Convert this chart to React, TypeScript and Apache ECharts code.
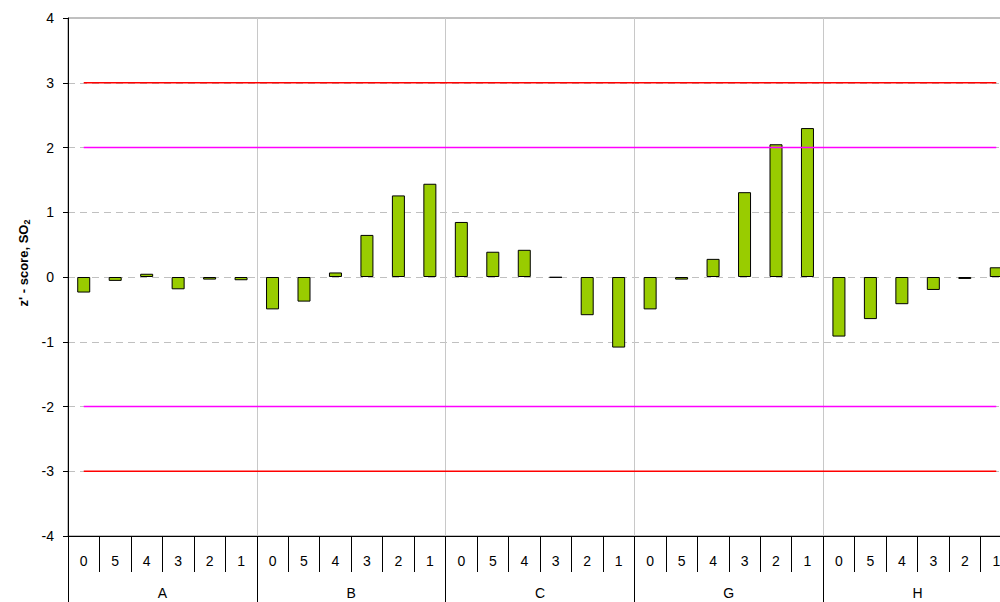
import React, { useEffect, useRef } from "react";
import * as echarts from "echarts";

const groups = ["A", "B", "C", "G", "H"];
const levels = ["0", "5", "4", "3", "2", "1"];
const zScores = [
  -0.24, -0.06, 0.05, -0.19, -0.04, -0.05,
  -0.5, -0.38, 0.07, 0.65, 1.26, 1.44,
  0.85, 0.39, 0.42, -0.01, -0.59, -1.09,
  -0.5, -0.04, 0.28, 1.31, 2.05, 2.3,
  -0.92, -0.65, -0.42, -0.2, -0.03, 0.15,
];
const warningLimit = 2;
const actionLimit = 3;
const yMin = -4;
const yMax = 4;
const yStep = 1;
const yTitle = "z' - score, SO";
const yTitleSub = "2";

const FONT = "'Liberation Sans', Arial, sans-serif";

export default function App() {
  const ref = useRef<HTMLDivElement>(null);

  useEffect(() => {
    if (!ref.current) return;
    const chart = echarts.init(ref.current, undefined, { renderer: "svg" });
    const categories = groups.flatMap(() => levels);
    const constLine = (v: number) => categories.map(() => v);
    const limitSeries = (v: number, color: string) => ({
      type: "line",
      data: constLine(v),
      symbol: "none",
      silent: true,
      z: 5,
      lineStyle: { color, width: 1.5 },
    });

    chart.setOption({
      animation: false,
      backgroundColor: "#ffffff",
      textStyle: { fontFamily: FONT },
      grid: {
        left: 68,
        right: 1,
        top: 18,
        bottom: 66,
        show: true,
        borderColor: "#808080",
        borderWidth: 1,
        backgroundColor: "transparent",
      },
      graphic: [
        {
          type: "text",
          x: 23,
          y: 263,
          rotation: Math.PI / 2,
          style: {
            text: `{a|${yTitle}}{s|${yTitleSub}}`,
            align: "center",
            verticalAlign: "middle",
            rich: {
              a: { fontSize: 13, fontWeight: "bold", fill: "#000", fontFamily: FONT },
              s: { fontSize: 9, fontWeight: "bold", fill: "#000", fontFamily: FONT, padding: [7, 0, 0, 0] },
            },
          },
        },
      ],
      xAxis: [
        {
          type: "category",
          data: categories,
          position: "bottom",
          axisLine: { show: true, onZero: false, lineStyle: { color: "#000", width: 1 } },
          axisTick: { show: true, interval: 0, length: 36, lineStyle: { color: "#000", width: 1 } },
          axisLabel: { interval: 0, margin: 18, color: "#000", fontSize: 14, fontFamily: FONT },
          splitLine: { show: false },
        },
        {
          type: "category",
          data: groups,
          position: "bottom",
          axisLine: { show: false, onZero: false },
          axisTick: { show: true, interval: 0, length: 68, lineStyle: { color: "#000", width: 1 } },
          axisLabel: { interval: 0, margin: 50, color: "#000", fontSize: 14, fontFamily: FONT },
          splitLine: { show: true, interval: 0, lineStyle: { color: "#c8c8c8", width: 1 } },
        },
      ],
      yAxis: {
        type: "value",
        min: yMin,
        max: yMax,
        interval: yStep,
        axisLine: { show: true, lineStyle: { color: "#000", width: 1 } },
        axisTick: { show: true, length: 5, lineStyle: { color: "#000" } },
        axisLabel: { margin: 14, color: "#000", fontSize: 14, fontFamily: FONT },
        splitLine: { show: true, lineStyle: { color: "#c0c0c0", type: [7, 5], width: 1 } },
      },
      series: [
        {
          type: "bar",
          data: zScores,
          barWidth: 13,
          xAxisIndex: 0,
          z: 3,
          itemStyle: { color: "#99cc00", borderColor: "#000", borderWidth: 1 },
        },
        limitSeries(actionLimit, "#ff0000"),
        limitSeries(warningLimit, "#ff00ff"),
        limitSeries(-warningLimit, "#ff00ff"),
        limitSeries(-actionLimit, "#ff0000"),
      ],
    });
    return () => chart.dispose();
  }, []);

  return (
    <div style={{ position: "fixed", left: 0, top: 0, width: 1000, height: 602, overflow: "hidden", background: "#fff" }}>
      <div ref={ref} style={{ width: 1013, height: 602 }} />
    </div>
  );
}
